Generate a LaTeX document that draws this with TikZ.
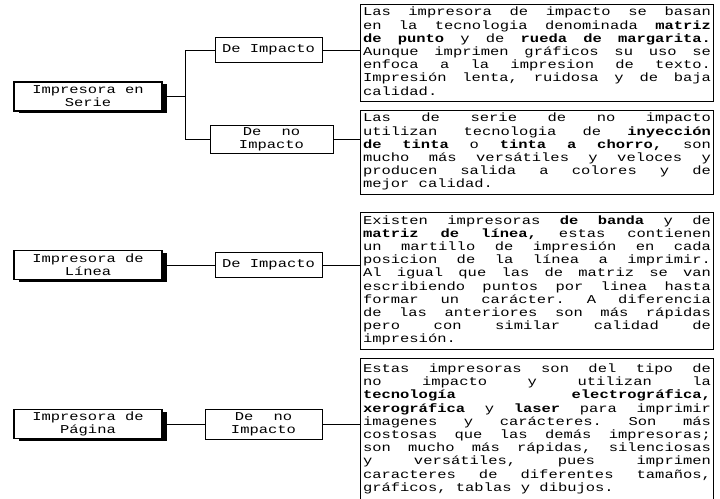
\documentclass[tikz,border=0pt]{standalone}
\usepackage{fontspec}
\setmainfont{Liberation Mono}[FakeStretch=1.29]
\usetikzlibrary{shadows}
\frenchspacing
\newcommand\JL[1]{\hbox to\hsize{\setbox0=\hbox{x}\spaceskip=\wd0 plus 1fil\relax\rule[-4.2pt]{0pt}{13.2pt}#1}}
\newcommand\LL[1]{\hbox to\hsize{\setbox0=\hbox{x}\spaceskip=\wd0\relax\rule[-4.2pt]{0pt}{13.2pt}#1\hfil}}
\tikzset{
  every node/.style={font=\fontsize{12pt}{13.2pt}\selectfont},
  conn/.style={draw=black, line width=0.9pt},
  lbox/.style={draw, fill=white, line width=1.2pt, align=center, inner sep=0pt,
    minimum width=148pt, minimum height=29pt,
    drop shadow={shadow xshift=4.5pt, shadow yshift=-2pt, fill=black, opacity=1}},
  mbox/.style={draw, fill=white, line width=0.9pt, align=center, inner sep=0pt, minimum height=25pt},
  tbox/.style={draw, line width=1pt, anchor=north west, inner xsep=2.5pt, inner ysep=0pt, text width=348pt}
}
\begin{document}
\begin{tikzpicture}[x=1pt,y=-1pt]
\useasboundingbox[fill=white] (0,0) rectangle (720,498);
\begin{scope}
\clip (0,0) rectangle (720,498);
% text boxes
\node[tbox, minimum height=97pt] (t1) at (360,4) {\vbox{%
\JL{Las impresora de impacto se basan}%
\JL{en la tecnologia denominada \textbf{matriz}}%
\JL{\textbf{de punto} y de \textbf{rueda de margarita.}}%
\JL{Aunque imprimen gráficos su uso se}%
\JL{enfoca a la impresion de texto.}%
\JL{Impresión lenta, ruidosa y de baja}%
\LL{calidad.}}};
\node[tbox, minimum height=84pt] (t2) at (360,110) {\vbox{%
\JL{Las de serie de no impacto}%
\JL{utilizan tecnologia de \textbf{inyección}}%
\JL{\textbf{de tinta} o \textbf{tinta a chorro,} son}%
\JL{mucho más versátiles y veloces y}%
\JL{producen salida a colores y de}%
\LL{mejor calidad.}}};
\node[tbox, minimum height=137pt] (t3) at (360,212) {\vbox{%
\JL{Existen impresoras \textbf{de banda} y de}%
\JL{\textbf{matriz de línea,} estas contienen}%
\JL{un martillo de impresión en cada}%
\JL{posicion de la línea a imprimir.}%
\JL{Al igual que las de matriz se van}%
\JL{escribiendo puntos por linea hasta}%
\JL{formar un carácter. A diferencia}%
\JL{de las anteriores son más rápidas}%
\JL{pero con similar calidad de}%
\LL{impresión.}}};
\node[tbox, minimum height=142pt] (t4) at (360,358) {\vbox{%
\JL{Estas impresoras son del tipo de}%
\JL{no impacto y utilizan la}%
\JL{\textbf{tecnología electrográfica,}}%
\JL{\textbf{xerográfica} y \textbf{laser} para imprimir}%
\JL{imagenes y carácteres. Son más}%
\JL{costosas que las demás impresoras;}%
\JL{son mucho más rápidas, silenciosas}%
\JL{y versátiles, pues imprimen}%
\JL{caracteres de diferentes tamaños,}%
\LL{gráficos, tablas y dibujos.}}};
\end{scope}
% left boxes
\node[lbox] (serie) at (88,96.5) {Impresora en\\Serie};
\node[lbox] (linea) at (88,265) {Impresora de\\Línea};
\node[lbox] (pagina) at (88,424) {Impresora de\\Página};
% middle boxes
\node[mbox, minimum width=107pt] (di1) at (268.5,50) {De Impacto};
\node[mbox, minimum width=123pt, minimum height=28pt] (dn1) at (271.5,139) {De\hspace{20pt}no\\Impacto};
\node[mbox, minimum width=107pt] (di2) at (268.5,265) {De Impacto};
\node[mbox, minimum width=117pt, minimum height=30pt] (dn2) at (263.5,424) {De\hspace{20pt}no\\Impacto};
% connectors
\coordinate (b1) at (185,50);
\coordinate (b2) at (185,139);
\draw[conn] (serie.east) -- (serie.east -| b1);
\draw[conn] (di1.west) -- (b1) -- (b2) -- (dn1.west);
\draw[conn] (di1.east) -- (di1.east -| t1.west);
\draw[conn] (dn1.east) -- (dn1.east -| t2.west);
\draw[conn] (linea.east) -- (di2.west);
\draw[conn] (di2.east) -- (di2.east -| t3.west);
\draw[conn] (pagina.east) -- (dn2.west);
\draw[conn] (dn2.east) -- (dn2.east -| t4.west);
\end{tikzpicture}
\end{document}
